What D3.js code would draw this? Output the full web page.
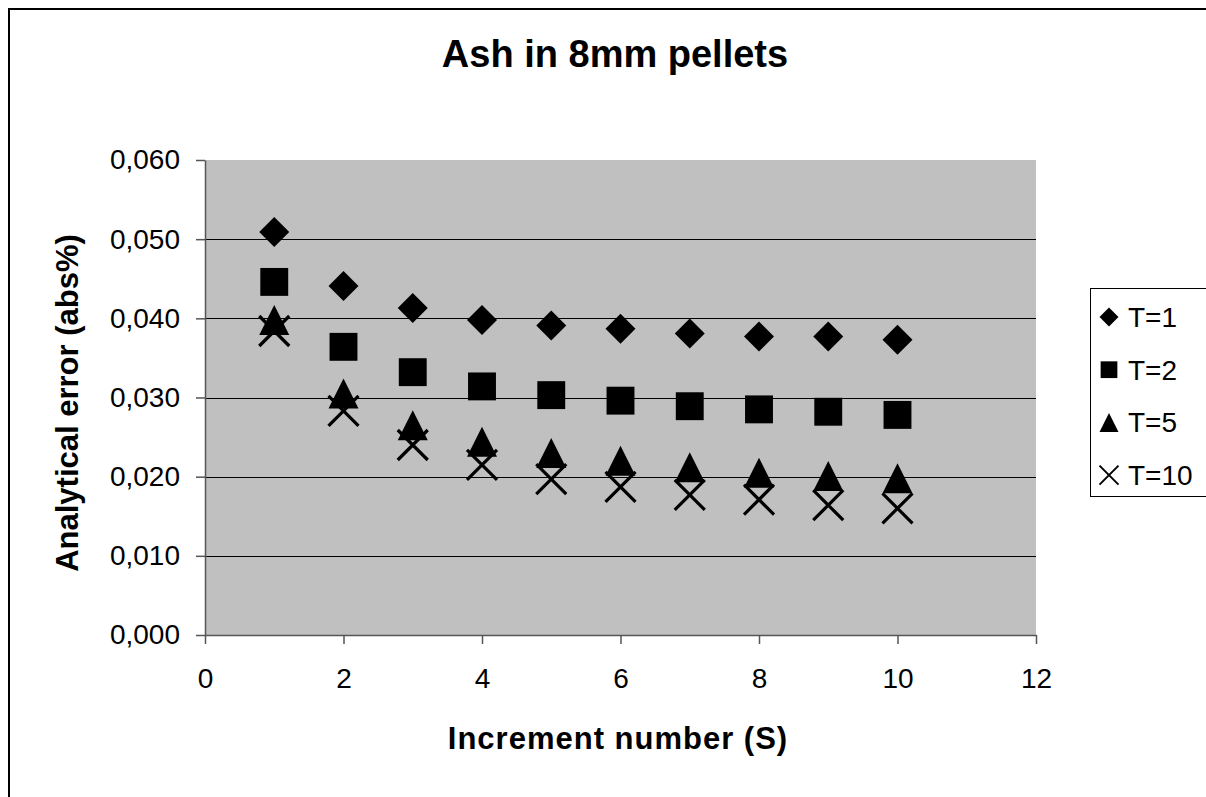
<!DOCTYPE html>
<html>
<head>
<meta charset="utf-8">
<script src="https://cdn.jsdelivr.net/npm/d3@7"></script>
<style>
  body { margin: 0; background: #fff; }
  svg { display: block; font-family: "Liberation Sans", Arial, sans-serif; }
</style>
</head>
<body>
<svg id="chart" width="1206" height="797"></svg>
<script>
// values
var increments = [1, 2, 3, 4, 5, 6, 7, 8, 9, 10];
var t1  = [0.0509, 0.0441, 0.0413, 0.0398, 0.0391, 0.0387, 0.0381, 0.0377, 0.0377, 0.0373];
var t2  = [0.0446, 0.0364, 0.0332, 0.0314, 0.0303, 0.0296, 0.0289, 0.0285, 0.0282, 0.0278];
var t5  = [0.0398, 0.0305, 0.0265, 0.0244, 0.0230, 0.0220, 0.0212, 0.0205, 0.0201, 0.0198];
var t10 = [0.0384, 0.0283, 0.0240, 0.0215, 0.0197, 0.0187, 0.0177, 0.0171, 0.0164, 0.0160];
var seriesNames = ["T=1", "T=2", "T=5", "T=10"];
var seriesShapes = ["diamond", "square", "triangle", "cross"];
var xTicks = [0, 2, 4, 6, 8, 10, 12];
var yTicks = [0, 0.01, 0.02, 0.03, 0.04, 0.05, 0.06];

var seriesValues = [t1, t2, t5, t10];

var svg = d3.select("#chart");
var plotLeft = 205, plotTop = 160, plotRight = 1036, plotBottom = 635;

var x = d3.scaleLinear().domain([0, 12]).range([plotLeft, plotRight]);
var y = d3.scaleLinear().domain([0, 0.06]).range([plotBottom, plotTop]);

var comma = d3.formatLocale({decimal: ",", thousands: ".", grouping: [3], currency: ["", ""]}).format(".3f");

// outer frame
svg.append("rect")
    .attr("x", 9).attr("y", 9)
    .attr("width", 1210).attr("height", 800)
    .attr("fill", "none").attr("stroke", "#000").attr("stroke-width", 2);

// plot area
svg.append("rect")
    .attr("x", plotLeft).attr("y", plotTop)
    .attr("width", plotRight - plotLeft).attr("height", plotBottom - plotTop)
    .attr("fill", "#c0c0c0");

// gridlines
svg.append("g").selectAll("line")
    .data(yTicks.filter(function (d) { return d > 0 && d < 0.06; }))
    .enter().append("line")
    .attr("x1", plotLeft).attr("x2", plotRight)
    .attr("y1", function (d) { return Math.round(y(d)) + 0.5; })
    .attr("y2", function (d) { return Math.round(y(d)) + 0.5; })
    .attr("stroke", "#000").attr("stroke-width", 1);

// axes
var yAxis = svg.append("g")
    .attr("transform", "translate(" + plotLeft + ",0)")
    .call(d3.axisLeft(y).tickValues(yTicks).tickFormat(comma).tickSize(9).tickPadding(16).tickSizeOuter(0));
var xAxis = svg.append("g")
    .attr("transform", "translate(0," + plotBottom + ")")
    .call(d3.axisBottom(x).tickValues(xTicks).tickFormat(d3.format("d")).tickSize(9).tickPadding(24).tickSizeOuter(0));

[yAxis, xAxis].forEach(function (a) {
    a.select(".domain").attr("stroke", "#555").attr("stroke-width", 1.5);
    a.selectAll(".tick line").attr("stroke", "#555").attr("stroke-width", 1.5);
    a.selectAll("text").attr("font-size", 28).attr("fill", "#000")
        .attr("font-family", "Liberation Sans, Arial, sans-serif");
});

// marker shapes
function markerPath(shape, s) {
    var h = s / 2;
    if (shape == "diamond") return "M0," + (-h) + "L" + h + ",0L0," + h + "L" + (-h) + ",0Z";
    if (shape == "square") { var q = h * 0.93; return "M" + (-q) + "," + (-q) + "H" + q + "V" + q + "H" + (-q) + "Z"; }
    if (shape == "triangle") return "M0," + (-h) + "L" + h + "," + h + "L" + (-h) + "," + h + "Z";
    return "M" + (-h) + "," + (-h) + "L" + h + "," + h + "M" + h + "," + (-h) + "L" + (-h) + "," + h;
}

function styleMarker(sel, shape, sw) {
    if (shape == "cross") sel.attr("fill", "none").attr("stroke", "#000").attr("stroke-width", sw);
    else sel.attr("fill", "#000").attr("stroke", "none");
}

seriesValues.forEach(function (vals, i) {
    var shape = seriesShapes[i];
    var pts = svg.append("g").selectAll("path")
        .data(vals.map(function (v, j) { return {x: increments[j], y: v}; }))
        .enter().append("path")
        .attr("d", markerPath(shape, 30))
        .attr("transform", function (d) { return "translate(" + x(d.x) + "," + y(d.y) + ")"; });
    styleMarker(pts, shape, 3.2);
});

// titles
svg.append("text")
    .attr("x", 615).attr("y", 67)
    .attr("text-anchor", "middle")
    .attr("font-size", 38).attr("font-weight", "bold")
    .text("Ash in 8mm pellets");

svg.append("text")
    .attr("x", 618).attr("y", 749)
    .attr("text-anchor", "middle")
    .attr("font-size", 31).attr("font-weight", "bold")
    .attr("letter-spacing", 1)
    .text("Increment number (S)");

svg.append("text")
    .attr("transform", "translate(78,403) rotate(-90)")
    .attr("text-anchor", "middle")
    .attr("font-size", 31).attr("font-weight", "bold")
    .text("Analytical error (abs%)");

// legend
var legend = svg.append("g");
legend.append("rect")
    .attr("x", 1090.5).attr("y", 288.5)
    .attr("width", 130).attr("height", 208)
    .attr("fill", "#fff").attr("stroke", "#000").attr("stroke-width", 1);

seriesNames.forEach(function (name, i) {
    var cy = 317 + i * 52.7;
    var m = legend.append("path")
        .attr("d", markerPath(seriesShapes[i], seriesShapes[i] == "square" ? 18 : 19))
        .attr("transform", "translate(1109," + cy + ")");
    styleMarker(m, seriesShapes[i], 2);
    legend.append("text")
        .attr("x", 1128).attr("y", cy + 10)
        .attr("font-size", 28)
        .text(name);
});
</script>
</body>
</html>
